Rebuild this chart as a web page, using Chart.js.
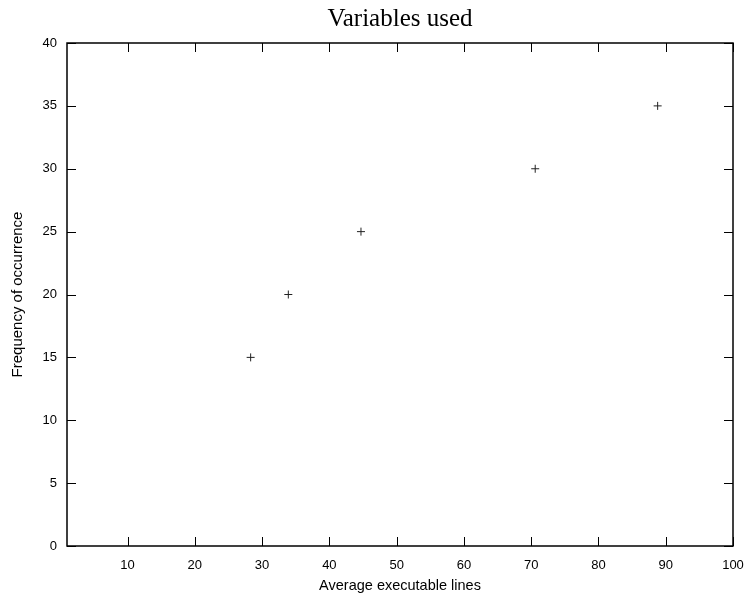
<!DOCTYPE html>
<html>
<head>
<meta charset="utf-8">
<script src="https://cdn.jsdelivr.net/npm/chart.js@4/dist/chart.umd.min.js"></script>
<style>
html, body { margin: 0; padding: 0; background: #fff; }
#wrap { width: 745px; height: 599px; position: relative; }
</style>
</head>
<body>
<div id="wrap"><canvas id="c"></canvas></div>
<script>
// data
const xValues = [28.3, 33.9, 44.7, 70.6, 88.8];
const yValues = [15, 20, 25, 30, 35];
const xTicks = [10, 20, 30, 40, 50, 60, 70, 80, 90, 100];
const yTicks = [0, 5, 10, 15, 20, 25, 30, 35, 40];

Chart.defaults.font.family = '"Liberation Sans", Arial, sans-serif';
Chart.defaults.font.size = 13;
Chart.defaults.color = '#000';

// gnuplot-like frame with inward ticks on all four sides
const frame = {
    id: 'frame',
    afterDraw(chart) {
        const {ctx, chartArea: a, scales: {x, y}} = chart;
        const len = 9;
        ctx.save();
        ctx.strokeStyle = '#000';
        ctx.lineWidth = 1;
        xTicks.forEach(v => {
            const px = Math.round(x.getPixelForValue(v)) + 0.5;
            ctx.beginPath();
            ctx.moveTo(px, a.bottom); ctx.lineTo(px, a.bottom - len);
            ctx.moveTo(px, a.top); ctx.lineTo(px, a.top + len);
            ctx.stroke();
        });
        yTicks.forEach(v => {
            const py = Math.round(y.getPixelForValue(v)) + 0.5;
            ctx.beginPath();
            ctx.moveTo(a.left, py); ctx.lineTo(a.left + len, py);
            ctx.moveTo(a.right, py); ctx.lineTo(a.right - len, py);
            ctx.stroke();
        });
        ctx.lineWidth = 1.5;
        ctx.strokeRect(a.left, a.top, a.right - a.left, a.bottom - a.top);
        ctx.restore();
    }
};

new Chart(document.getElementById('c'), {
    type: 'scatter',
    data: {
        datasets: [{
            data: xValues.map((v, i) => ({x: v, y: yValues[i]})),
            pointStyle: 'cross',
            radius: 4,
            borderColor: '#222',
            borderWidth: 1
        }]
    },
    options: {
        responsive: true,
        maintainAspectRatio: false,
        animation: false,
        layout: {padding: {right: 0}},
        plugins: {
            legend: {display: false},
            tooltip: {enabled: false},
            title: {
                display: true,
                text: 'Variables used',
                fullSize: false,
                font: {family: '"Liberation Serif", "Times New Roman", serif', size: 25, weight: 'normal'},
                padding: {top: 4, bottom: 9}
            }
        },
        scales: {
            x: {
                type: 'linear',
                min: 1, max: 100,
                afterBuildTicks: s => { s.ticks = xTicks.map(v => ({value: v})); },
                afterFit: s => { s.height = 53; s.paddingRight = 12; },
                grid: {display: false, drawTicks: false},
                border: {display: false},
                ticks: {padding: 12, maxRotation: 0, autoSkip: false},
                title: {display: true, text: 'Average executable lines', font: {size: 14.5}, padding: {top: 6}}
            },
            y: {
                min: 0, max: 40,
                afterBuildTicks: s => { s.ticks = yTicks.map(v => ({value: v})); },
                afterFit: s => { s.width = 67; },
                grid: {display: false, drawTicks: false},
                border: {display: false},
                ticks: {padding: 10},
                title: {display: true, text: 'Frequency of occurrence', font: {size: 15}, padding: {top: 9, bottom: 4}}
            }
        }
    },
    plugins: [frame]
});
</script>
</body>
</html>
